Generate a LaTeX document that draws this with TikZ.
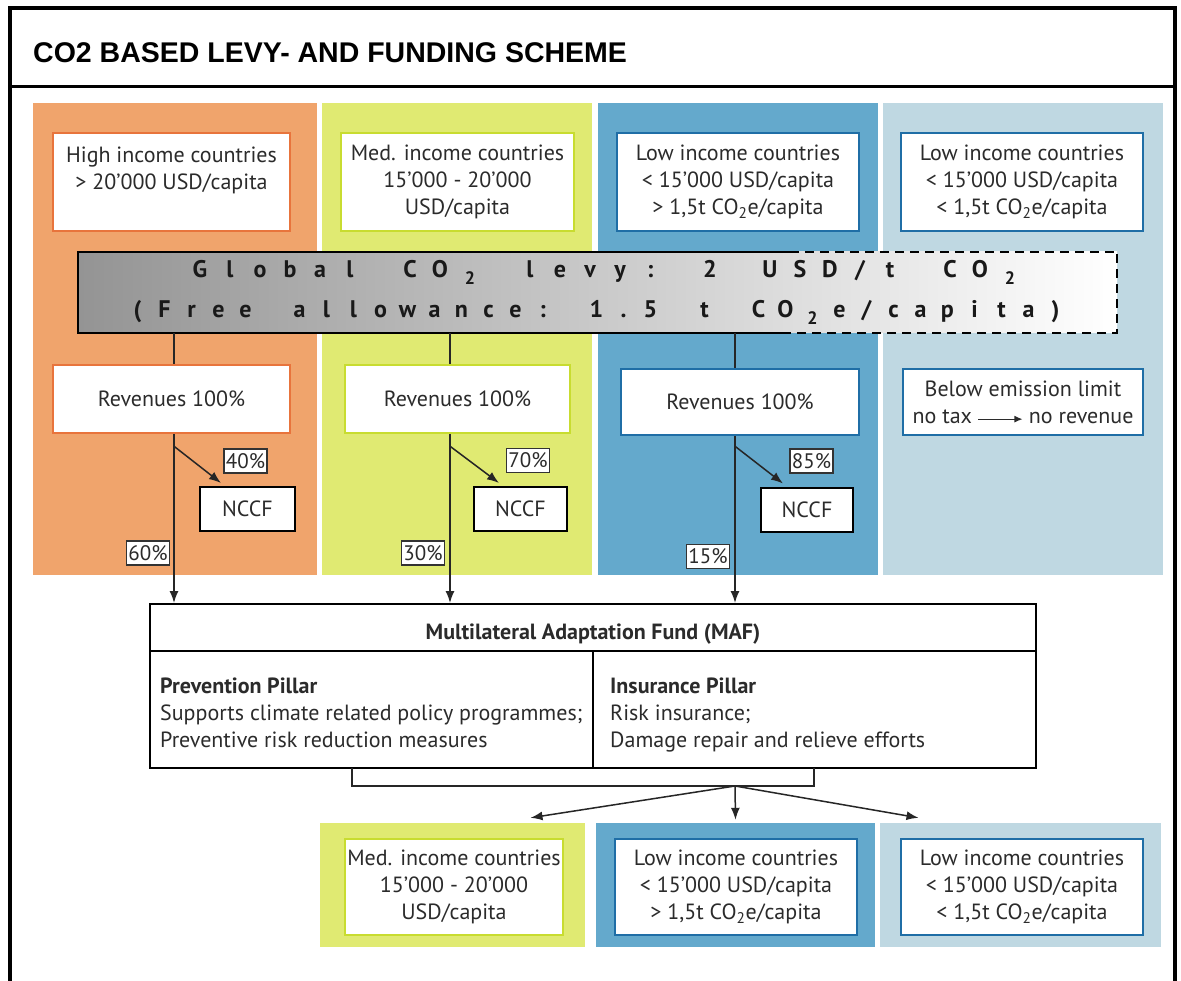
\documentclass[tikz,border=0pt]{standalone}
\usepackage{fontspec}
\setmainfont{PT Sans}
\newfontfamily\titlefont{Liberation Sans}
\usetikzlibrary{arrows,arrows.meta,calc}

\definecolor{hifill}{HTML}{F0A46C}
\definecolor{hiline}{HTML}{E8743C}
\definecolor{medfill}{HTML}{E0EA72}
\definecolor{medline}{HTML}{C8DC30}
\definecolor{lowfill}{HTML}{64A9CC}
\definecolor{lowline}{HTML}{1F6EA6}
\definecolor{leastfill}{HTML}{BFD8E2}
\definecolor{textgray}{HTML}{2B2B2B}

% one character per slot, "_" gives a lowered 2
\ExplSyntaxOn
\NewDocumentCommand\levyline{mm}
 {
  \str_map_inline:nn {#2}
   {
    \str_if_eq:nnTF {##1} {_}
     { \makebox[#1][c]{\raisebox{-7pt}{\fontsize{18}{18}\selectfont 2}} }
     { \makebox[#1][c]{##1} }
   }
 }
\ExplSyntaxOff

\tikzset{
  cbox/.style={draw=#1, line width=2.5pt, fill=white, align=center, text=textgray,
    font=\fontsize{22}{27}\selectfont, inner sep=0pt},
  pctbox/.style={draw=black!80, line width=1.3pt, fill=white, inner sep=2pt,
    minimum height=24pt, font=\fontsize{21}{22}\selectfont, text=textgray},
  nccfbox/.style={draw=black, line width=2pt, fill=white, minimum width=#1,
    minimum height=44pt, font=\fontsize{22}{27}\selectfont, text=textgray},
  pillar/.style={anchor=north west, align=left, inner sep=0pt, text=textgray,
    font=\fontsize{22}{27}\selectfont},
  levytext/.style={inner sep=0pt, text=black!90, font=\bfseries\fontsize{24}{28}\selectfont},
  flow/.style={line width=1.5pt, black!85, -{Latex[length=12pt,width=9pt]}},
}

\begin{document}
\begin{tikzpicture}[x=1pt,y=-1pt]
\useasboundingbox (0,0) rectangle (1181,981);
\fill[white] (0,0) rectangle (1181,981);

% frame and title
\draw[line width=4pt] (10,981) -- (10,8) -- (1175,8) -- (1175,981);
\draw[line width=3pt] (10,87) -- (1175,87);
\node[anchor=base west, inner sep=0pt, font=\titlefont\bfseries\fontsize{28.5}{30}\selectfont] (title) at (33,63) {CO2 BASED LEVY- AND FUNDING SCHEME};

% country columns
\fill[hifill] (33,103) rectangle (317,575);
\fill[medfill] (322,103) rectangle (592,575);
\fill[lowfill] (598,103) rectangle (878,575);
\fill[leastfill] (883,103) rectangle (1163,575);

\node[cbox=hiline, minimum width=237pt, minimum height=98pt] (hi) at (171.5,182) {High income countries\\> 20’000 USD/capita\\\phantom{X}};
\node[cbox=medline, minimum width=233pt, minimum height=98pt] (med) at (457.5,182) {Med. income countries\\15’000 - 20’000\\USD/capita};
\node[cbox=lowline, minimum width=242pt, minimum height=98pt] (low) at (738,182) {Low income countries\\< 15’000 USD/capita\\> 1,5t CO\textsubscript{2}e/capita};
\node[cbox=lowline, minimum width=242pt, minimum height=98pt] (least) at (1022,182) {Low income countries\\< 15’000 USD/capita\\< 1,5t CO\textsubscript{2}e/capita};

% the levy
\node[left color=black!42, right color=white, minimum width=1039pt, minimum height=81pt, inner sep=0pt] (levy) at (597.5,292.5) {};
\node[levytext] (levyone) at (605,272) {\levyline{30pt}{Global CO_ levy: 2 USD/t CO_}};
\node[levytext] (levytwo) at (596.5,312) {\levyline{27pt}{(Free allowance: 1.5 t CO_e/capita)}};
\draw[line width=2pt] ($(levy.north west)+(712,0)$) -- (levy.north west) -- (levy.south west) -- ++(712,0);
\draw[line width=2pt, dash pattern=on 9pt off 6pt] ($(levy.north west)+(712,0)$) -- (levy.north east) -- (levy.south east) -- ($(levy.south west)+(712,0)$);

\coordinate (c1) at (174,0);
\coordinate (c2) at (450,0);
\coordinate (c3) at (735,0);

% revenues
\node[cbox=hiline, minimum width=237pt, minimum height=68pt] (rev1) at (171.5,399) {Revenues 100\%};
\node[cbox=medline, minimum width=225pt, minimum height=68pt] (rev2) at (457.5,399) {Revenues 100\%};
\node[cbox=lowline, minimum width=238pt, minimum height=66pt] (rev3) at (740,402) {Revenues 100\%};
\node[cbox=lowline, minimum width=240pt, minimum height=66pt] (nolevy) at (1023,402) {Below emission limit\\no tax \tikz[baseline=-4pt]\draw[line width=1.2pt, -{Latex[length=8pt,width=7pt]}] (0pt,0pt) -- (44pt,0pt); no revenue};

\draw[flow, -] (levy.south -| c1) -- (rev1.north -| c1);
\draw[flow, -] (levy.south -| c2) -- (rev2.north -| c2);
\draw[flow, -] (levy.south -| c3) -- (rev3.north -| c3);

% national funds
\node[nccfbox=95pt] (nccf1) at (247.5,509) {NCCF};
\node[nccfbox=93pt] (nccf2) at (520.5,509) {NCCF};
\node[nccfbox=92pt] (nccf3) at (807,509.5) {NCCF};

\node[pctbox] (p40) at (245.5,461) {40\%};
\node[pctbox] (p70) at (528,460.5) {70\%};
\node[pctbox] (p85) at (811.5,461) {85\%};
\node[pctbox] (p60) at (148,553) {60\%};
\node[pctbox] (p30) at (423,553) {30\%};
\node[pctbox] (p15) at (708,556.5) {15\%};

% MAF
\node[draw, line width=2pt, fill=white, minimum width=886pt, minimum height=164pt] (maf) at (593,686) {};
\draw[line width=1.5pt] ($(maf.north west)+(0,48)$) -- ($(maf.north east)+(0,48)$);
\draw[line width=1.5pt] ($(maf.north west)+(444,48)$) -- ($(maf.south west)+(444,0)$);
\node[font=\bfseries\fontsize{22}{27}\selectfont, text=textgray] (maftitle) at (593,634) {Multilateral Adaptation Fund (MAF)};
\node[pillar] (prevent) at (160,678) {\textbf{Prevention Pillar}\\Supports climate related policy programmes;\\Preventive risk reduction measures};
\node[pillar] (insure) at (610,678) {\textbf{Insurance Pillar}\\Risk insurance;\\Damage repair and relieve efforts};

\draw[flow] (rev1.south -| c1) -- (maf.north -| c1);
\draw[flow] (rev2.south -| c2) -- (maf.north -| c2);
\draw[flow] (rev3.south -| c3) -- (maf.north -| c3);
\draw[flow] ($(rev1.south -| c1)+(0,12)$) -- ($(nccf1.north west)+(22,-3)$);
\draw[flow] ($(rev2.south -| c2)+(0,12)$) -- ($(nccf2.north west)+(26,-3)$);
\draw[flow] ($(rev3.south -| c3)+(0,10)$) -- ($(nccf3.north west)+(23,-3)$);

% payout
\draw[flow, -] (352,768) |- (814,786) -- (814,768);
\coordinate (fork) at (735,786);

\node[fill=medfill, minimum width=265pt, minimum height=124pt] (bmedpanel) at (452.5,885) {};
\node[fill=lowfill, minimum width=279pt, minimum height=124pt] (blowpanel) at (735.5,885) {};
\node[fill=leastfill, minimum width=281pt, minimum height=124pt] (bleastpanel) at (1020.5,885) {};
\node[cbox=medline, minimum width=218pt, minimum height=96pt] (bmed) at (454,887) {Med. income countries\\15’000 - 20’000\\USD/capita};
\node[cbox=lowline, minimum width=242pt, minimum height=96pt] (blow) at (736,887) {Low income countries\\< 15’000 USD/capita\\> 1,5t CO\textsubscript{2}e/capita};
\node[cbox=lowline, minimum width=242pt, minimum height=96pt] (bleast) at (1022,887) {Low income countries\\< 15’000 USD/capita\\< 1,5t CO\textsubscript{2}e/capita};

\draw[flow] (fork) -- ($(bmedpanel.north)+(78,-5)$);
\draw[flow] (fork) -- ($(blowpanel.north)+(0,-3)$);
\draw[flow] (fork) -- ($(bleastpanel.north)+(-102,-5)$);
\end{tikzpicture}
\end{document}
